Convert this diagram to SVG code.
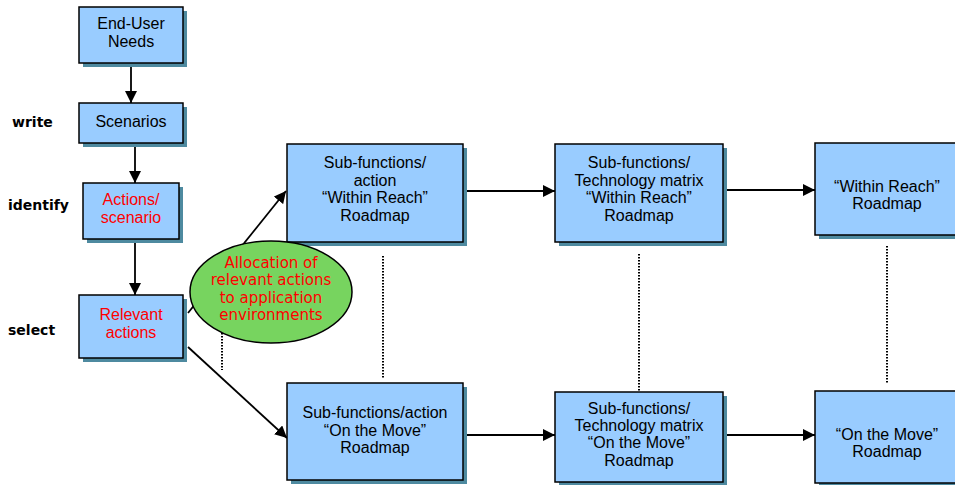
<svg xmlns="http://www.w3.org/2000/svg" width="955" height="485" viewBox="0 0 955 485">
<defs>
<marker id="ah" viewBox="0 0 10 10" refX="10" refY="5" markerWidth="12" markerHeight="12" markerUnits="userSpaceOnUse" orient="auto">
<path d="M0,0 L10,5 L0,10 z" fill="#000"/>
</marker>
<style>
.shadow{fill:#4e8aa0}
.box{fill:#99ccff;stroke:#000;stroke-width:1.5}
.t{font-family:"Liberation Sans",Arial,sans-serif;font-size:16px;fill:#000;text-anchor:middle}
.r{fill:#ff0000}
.lab{font-family:"DejaVu Sans",Verdana,sans-serif;font-size:14px;font-weight:bold;fill:#000}
.con{stroke:#000;stroke-width:1.8;fill:none;marker-end:url(#ah)}
.dot{stroke:#000;stroke-width:2;stroke-dasharray:1.5 1.5;fill:none}
.et{font-family:"DejaVu Sans",Verdana,sans-serif;font-size:15px;fill:#ff0000;text-anchor:middle}
</style>
</defs>
<rect width="955" height="485" fill="#fff"/>
<g id="labels">
<text class="lab" x="12" y="127">write</text>
<text class="lab" x="8" y="210">identify</text>
<text class="lab" x="8" y="335">select</text>
</g>
<g id="connectors">
<line class="con" x1="131" y1="63" x2="131" y2="103"/>
<line class="con" x1="135" y1="143" x2="135" y2="183"/>
<line class="con" x1="135" y1="239" x2="135" y2="295"/>
<line class="con" x1="188" y1="313" x2="286" y2="191"/>
<line class="con" x1="188" y1="347" x2="287" y2="438"/>
<line class="con" x1="467" y1="191" x2="555" y2="191"/>
<line class="con" x1="727" y1="190" x2="815" y2="190"/>
<line class="con" x1="467" y1="435" x2="555" y2="435"/>
<line class="con" x1="727" y1="435" x2="815" y2="435"/>
<line class="dot" x1="383" y1="256" x2="383" y2="378"/>
<line class="dot" x1="639" y1="254" x2="639" y2="391"/>
<line class="dot" x1="887" y1="246" x2="887" y2="384"/>
<line class="dot" x1="222" y1="333" x2="222" y2="370"/>
</g>
<g id="n1"><rect class="shadow" x="83" y="11" width="104" height="56"/><rect class="box" x="79" y="7" width="104" height="56"/><text class="t" x="131" y="29">End-User</text><text class="t" x="131" y="47">Needs</text></g>
<g id="n2"><rect class="shadow" x="83" y="107" width="104" height="40"/><rect class="box" x="79" y="103" width="104" height="40"/><text class="t" x="131" y="127">Scenarios</text></g>
<g id="n3"><rect class="shadow" x="87" y="187" width="96" height="56"/><rect class="box" x="83" y="183" width="96" height="56"/><text class="t r" x="131" y="205">Actions/</text><text class="t r" x="131" y="223">scenario</text></g>
<g id="n4"><rect class="shadow" x="83" y="299" width="104" height="63"/><rect class="box" x="79" y="295" width="104" height="63"/><text class="t r" x="131" y="320">Relevant</text><text class="t r" x="131" y="338">actions</text></g>
<g id="n5"><rect class="shadow" x="291" y="148" width="176" height="98"/><rect class="box" x="287" y="144" width="176" height="98"/><text class="t" x="375" y="168">Sub-functions/</text><text class="t" x="375" y="186">action</text><text class="t" x="375" y="203">“Within Reach”</text><text class="t" x="375" y="221">Roadmap</text></g>
<g id="n6"><rect class="shadow" x="559" y="148" width="168" height="98"/><rect class="box" x="555" y="144" width="168" height="98"/><text class="t" x="639" y="168">Sub-functions/</text><text class="t" x="639" y="186">Technology matrix</text><text class="t" x="639" y="203">“Within Reach”</text><text class="t" x="639" y="221">Roadmap</text></g>
<g id="n7"><rect class="shadow" x="819" y="147" width="140" height="92"/><rect class="box" x="815" y="143" width="145" height="92"/><text class="t" x="887" y="192">“Within Reach”</text><text class="t" x="887" y="209">Roadmap</text></g>
<g id="n8"><rect class="shadow" x="291" y="387" width="176" height="97"/><rect class="box" x="287" y="383" width="176" height="97"/><text class="t" x="375" y="418">Sub-functions/action</text><text class="t" x="375" y="436">“On the Move”</text><text class="t" x="375" y="453">Roadmap</text></g>
<g id="n9"><rect class="shadow" x="559" y="396" width="168" height="90"/><rect class="box" x="555" y="392" width="168" height="90"/><text class="t" x="639" y="414">Sub-functions/</text><text class="t" x="639" y="431">Technology matrix</text><text class="t" x="639" y="448">“On the Move”</text><text class="t" x="639" y="466">Roadmap</text></g>
<g id="n10"><rect class="shadow" x="819" y="395" width="140" height="92"/><rect class="box" x="815" y="391" width="145" height="92"/><text class="t" x="887" y="440">“On the Move”</text><text class="t" x="887" y="457">Roadmap</text></g>
<g id="n11"><ellipse cx="271" cy="292" rx="81" ry="51" fill="#77d45f" stroke="#000" stroke-width="1.5"/><text class="et" x="271" y="268">Allocation of</text><text class="et" x="271" y="285">relevant actions</text><text class="et" x="271" y="303">to application</text><text class="et" x="271" y="320">environments</text></g>
</svg>
